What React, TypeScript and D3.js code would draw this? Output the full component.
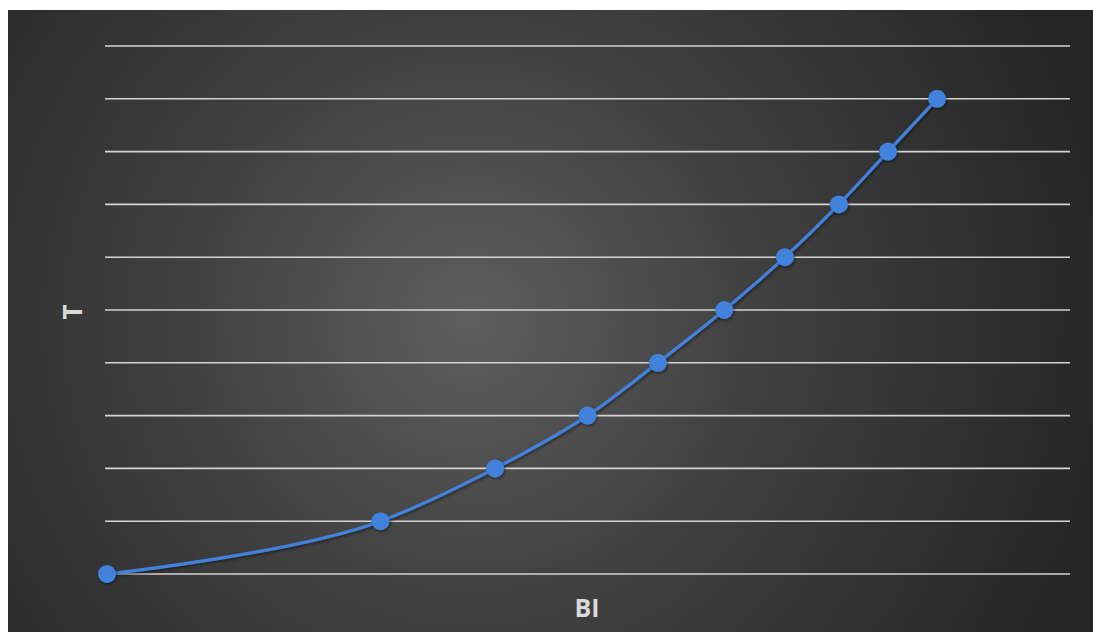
import React from "react";
import * as d3 from "d3";

const xValues = [0, 2.84, 4.03, 4.99, 5.72, 6.41, 7.04, 7.6, 8.11, 8.62];
const yValues = [0, 1, 2, 3, 4, 5, 6, 7, 8, 9];
const yTicks = [0, 1, 2, 3, 4, 5, 6, 7, 8, 9, 10];
const xTitle = "BI";
const yTitle = "T";

const W = 1093;
const H = 632;

export default function App() {
  const x = d3.scaleLinear().domain([0, 10]).range([107, 1070]);
  const y = d3.scaleLinear().domain([0, 10]).range([574, 46]);
  const pts = xValues.map((v, i) => [x(v), y(yValues[i])] as [number, number]);
  const line = d3.line().curve(d3.curveCatmullRom.alpha(1))(pts) || "";
  return (
    <svg
      width={W}
      height={H}
      style={{ position: "absolute", left: 0, top: 0, display: "block" }}
    >
      <defs>
        <radialGradient id="bg" gradientUnits="userSpaceOnUse" cx={470} cy={320} r={640}>
          <stop offset="0" stopColor="#5e5e5e" />
          <stop offset="0.45" stopColor="#404040" />
          <stop offset="1" stopColor="#262626" />
        </radialGradient>
        <filter id="sh" x="-50%" y="-50%" width="200%" height="200%">
          <feDropShadow dx="1" dy="1.5" stdDeviation="1.5" floodColor="#000" floodOpacity="0.5" />
        </filter>
      </defs>
      <rect x={0} y={0} width={W} height={H} fill="#ffffff" />
      <rect x={8} y={10} width={W - 8} height={H - 10} fill="url(#bg)" />
      {yTicks.map((t) => (
        <line
          key={t}
          x1={105}
          x2={1070}
          y1={y(t)}
          y2={y(t)}
          stroke="#d4d4d4"
          strokeWidth={1.6}
        />
      ))}
      <path d={line} fill="none" stroke="#4382dc" strokeWidth={3.2} filter="url(#sh)" />
      {pts.map((p, i) => (
        <circle key={i} cx={p[0]} cy={p[1]} r={9} fill="#4382dc" filter="url(#sh)" />
      ))}
      <text
        x={587}
        y={617}
        textAnchor="middle"
        fontFamily="Open Sans, DejaVu Sans, sans-serif"
        fontWeight="bold"
        fontSize={25}
        fill="#d9d9d9"
      >
        {xTitle}
      </text>
      <text
        transform="translate(82,312) rotate(-90)"
        textAnchor="middle"
        fontFamily="Open Sans, DejaVu Sans, sans-serif"
        fontWeight="bold"
        fontSize={26}
        fill="#d9d9d9"
      >
        {yTitle}
      </text>
    </svg>
  );
}
